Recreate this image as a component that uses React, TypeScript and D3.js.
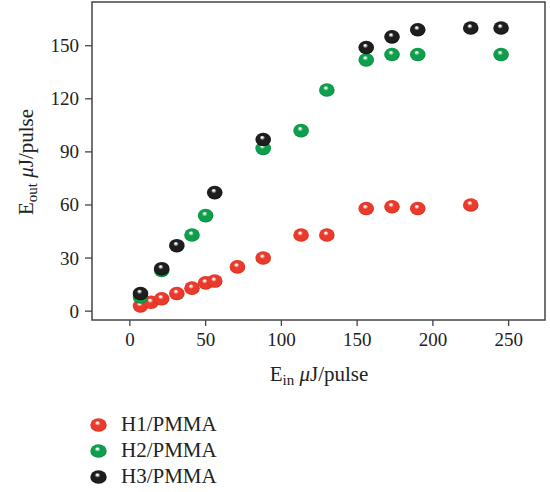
import React from "react";
import * as d3 from "d3";

const h1X = [7, 14, 21, 31, 41, 50, 56, 71, 88, 113, 130, 156, 173, 190, 225];
const h1Y = [3, 5, 7, 10, 13, 16, 17, 25, 30, 43, 43, 58, 59, 58, 60];
const h2X = [7, 21, 41, 50, 88, 113, 130, 156, 173, 190, 245];
const h2Y = [8, 23, 43, 54, 92, 102, 125, 142, 145, 145, 145];
const h3X = [7, 21, 31, 56, 88, 156, 173, 190, 225, 245];
const h3Y = [10, 24, 37, 67, 97, 149, 155, 159, 160, 160];
const xTicks = [0, 50, 100, 150, 200, 250];
const yTicks = [0, 30, 60, 90, 120, 150];
const seriesNames = ["H1/PMMA", "H2/PMMA", "H3/PMMA"];
const seriesColors = [
  { id: "gr", base: "#ea3a2b", dark: "#c8200f", hi: "#ffffff" },
  { id: "gg", base: "#0e9f4d", dark: "#057a34", hi: "#ffffff" },
  { id: "gb", base: "#1e1e1e", dark: "#050505", hi: "#ffffff" },
];

const W = 550;
const H = 492;
const left = 92, right = 545, top = 2, bottom = 320;
const font = "'Liberation Serif', 'Times New Roman', serif";
const axisColor = "#444";

export default function App() {
  const x = d3.scaleLinear().domain([-25, 274]).range([left, right]);
  const y = d3.scaleLinear().domain([-5, 174.7]).range([bottom, top]);
  const series = [
    { xs: h1X, ys: h1Y },
    { xs: h2X, ys: h2Y },
    { xs: h3X, ys: h3Y },
  ];
  return (
    <svg width={W} height={H} style={{ position: "absolute", left: 0, top: 0 }}>
      <defs>
        {seriesColors.map((c) => (
          <radialGradient key={c.id} id={c.id} cx="0.5" cy="0.5" r="0.55" fx="0.42" fy="0.32">
            <stop offset="0" stopColor={c.hi} />
            <stop offset="0.08" stopColor={c.hi} stopOpacity={0.9} />
            <stop offset="0.32" stopColor={c.base} />
            <stop offset="0.78" stopColor={c.base} />
            <stop offset="1" stopColor={c.dark} />
          </radialGradient>
        ))}
      </defs>
      <rect x={0} y={0} width={W} height={H} fill="#fff" />
      <rect x={left} y={top} width={right - left} height={bottom - top} fill="none" stroke={axisColor} strokeWidth={1.5} />
      {xTicks.map((t) => (
        <g key={"x" + t}>
          <line x1={x(t)} x2={x(t)} y1={bottom} y2={bottom + 6} stroke={axisColor} strokeWidth={1.3} />
          <text x={x(t)} y={bottom + 26} textAnchor="middle" fontFamily={font} fontSize={19} fill="#222">{t}</text>
        </g>
      ))}
      {yTicks.map((t) => (
        <g key={"y" + t}>
          <line x1={left - 7} x2={left} y1={y(t)} y2={y(t)} stroke={axisColor} strokeWidth={1.3} />
          <text x={left - 13} y={y(t) + 6.5} textAnchor="end" fontFamily={font} fontSize={19} fill="#222">{t}</text>
        </g>
      ))}
      <text x={319} y={381} textAnchor="middle" fontFamily={font} fontSize={21} fill="#222">
        E<tspan fontSize={15} dy={4}>in</tspan><tspan dy={-4}> </tspan><tspan fontStyle="italic">μ</tspan>J/pulse
      </text>
      <text transform="translate(33,162) rotate(-90)" textAnchor="middle" fontFamily={font} fontSize={21} fill="#222">
        E<tspan fontSize={15} dy={4}>out</tspan><tspan dy={-4}> </tspan><tspan fontStyle="italic">μ</tspan>J/pulse
      </text>
      {series.map((s, si) => (
        <g key={"s" + si}>
          {s.xs.map((xv, i) => (
            <ellipse key={i} cx={x(xv)} cy={y(s.ys[i])} rx={7.8} ry={6.8} fill={`url(#${seriesColors[si].id})`} />
          ))}
        </g>
      ))}
      {seriesNames.map((n, i) => (
        <g key={n}>
          <ellipse cx={98.5} cy={425 + i * 26} rx={8.2} ry={6.8} fill={`url(#${seriesColors[i].id})`} />
          <text x={121} y={431 + i * 26} fontFamily={font} fontSize={21} fill="#222">{n}</text>
        </g>
      ))}
    </svg>
  );
}
